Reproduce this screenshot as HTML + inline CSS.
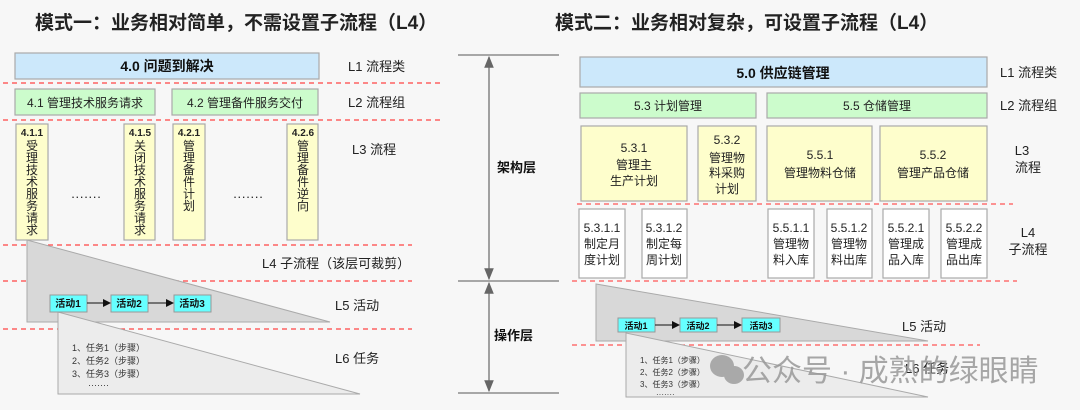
<!DOCTYPE html>
<html><head><meta charset="utf-8"><style>
html,body{margin:0;padding:0;background:#f7f7f7;}
svg{display:block;font-family:"Liberation Sans","Noto Sans CJK SC",sans-serif;}
</style></head><body>
<svg width="1080" height="410" viewBox="0 0 1080 410" xmlns="http://www.w3.org/2000/svg">
<defs><marker id="a" markerWidth="8" markerHeight="8" refX="7" refY="4" orient="auto"><path d="M0,0 L8,4 L0,8z" fill="#111"/></marker>
<marker id="g" markerWidth="10" markerHeight="10" refX="9" refY="5" orient="auto"><path d="M0,1 L10,5 L0,9z" fill="#666"/></marker></defs>
<rect width="1080" height="410" fill="#f7f7f7"/>
<g font-weight="bold" font-size="19" fill="#222">
<text x="35" y="29">模式一：业务相对简单，不需设置子流程（L4）</text>
<text x="555" y="29">模式二：业务相对复杂，可设置子流程（L4）</text>
</g>
<!-- LEFT -->
<g stroke="#aaa" stroke-width="1.2">
<rect x="15" y="53" width="304" height="26" fill="#cce8fb"/>
<rect x="15" y="89" width="140" height="26" fill="#ccfccc"/>
<rect x="172" y="89" width="146" height="26" fill="#ccfccc"/>
<rect x="16" y="124" width="32" height="116" fill="#fefecc"/>
<rect x="124" y="124" width="31" height="116" fill="#fefecc"/>
<rect x="173" y="124" width="32" height="116" fill="#fefecc"/>
<rect x="287" y="124" width="31" height="116" fill="#fefecc"/>
</g>
<g stroke="#f44" stroke-width="1.2" stroke-dasharray="5,4">
<line x1="3" y1="83" x2="440" y2="83"/><line x1="3" y1="120" x2="440" y2="120"/>
<line x1="3" y1="245" x2="412" y2="245"/><line x1="3" y1="281" x2="412" y2="281"/>
<line x1="3" y1="329" x2="412" y2="329"/>
</g>
<text x="167" y="71" font-size="14" font-weight="bold" text-anchor="middle" fill="#111">4.0  问题到解决</text>
<g font-size="12" fill="#222" text-anchor="middle">
<text x="85" y="107">4.1  管理技术服务请求</text>
<text x="245" y="107">4.2  管理备件服务交付</text>
</g>
<g font-size="11" fill="#222" text-anchor="middle">
<text x="32" y="136" font-weight="bold" font-size="10">4.1.1</text>
<text x="140" y="136" font-weight="bold" font-size="10">4.1.5</text>
<text x="189" y="136" font-weight="bold" font-size="10">4.2.1</text>
<text x="303" y="136" font-weight="bold" font-size="10">4.2.6</text>
<g font-size="12">
<text x="32" y="150">受</text><text x="32" y="162">理</text><text x="32" y="174">技</text><text x="32" y="186">术</text><text x="32" y="198">服</text><text x="32" y="210">务</text><text x="32" y="222">请</text><text x="32" y="234">求</text>
<text x="140" y="150">关</text><text x="140" y="162">闭</text><text x="140" y="174">技</text><text x="140" y="186">术</text><text x="140" y="198">服</text><text x="140" y="210">务</text><text x="140" y="222">请</text><text x="140" y="234">求</text>
<text x="189" y="150">管</text><text x="189" y="162">理</text><text x="189" y="174">备</text><text x="189" y="186">件</text><text x="189" y="198">计</text><text x="189" y="210">划</text>
<text x="303" y="150">管</text><text x="303" y="162">理</text><text x="303" y="174">备</text><text x="303" y="186">件</text><text x="303" y="198">逆</text><text x="303" y="210">向</text>
</g>
<text x="86" y="201" font-size="13">·······</text><text x="248" y="201" font-size="13">·······</text>
</g>
<g font-size="13" fill="#222">
<text x="348" y="71">L1 流程类</text><text x="348" y="107">L2 流程组</text><text x="352" y="154">L3 流程</text>
<text x="262" y="268">L4 子流程（该层可裁剪）</text>
<text x="335" y="310">L5  活动</text><text x="335" y="363">L6  任务</text>
</g>
<polygon points="27,240 27,322 330,322" fill="#d8d8d8" stroke="#aaa"/>
<polygon points="58,312 58,394 360,394" fill="#ececec" stroke="#aaa"/>
<g stroke="#999" fill="#66ffff"><rect x="50" y="295" width="37" height="17"/><rect x="111" y="295" width="37" height="17"/><rect x="174" y="295" width="37" height="17"/></g>
<g stroke="#111"><line x1="87" y1="303" x2="110" y2="303" marker-end="url(#a)"/><line x1="148" y1="303" x2="173" y2="303" marker-end="url(#a)"/></g>
<g font-size="10" font-weight="bold" text-anchor="middle" fill="#111"><text x="68" y="307">活动1</text><text x="129" y="307">活动2</text><text x="192" y="307">活动3</text></g>
<g font-size="9" fill="#333"><text x="72" y="351">1、任务1（步骤）</text><text x="72" y="364">2、任务2（步骤）</text><text x="72" y="377">3、任务3（步骤）</text><text x="88" y="388">·······</text></g>
<!-- middle -->
<g stroke="#777" stroke-width="1.2"><line x1="458" y1="55" x2="559" y2="55"/><line x1="458" y1="281" x2="559" y2="281"/><line x1="458" y1="393" x2="559" y2="393"/></g>
<g stroke="#666" stroke-width="1.2"><line x1="489" y1="168" x2="489" y2="57" marker-end="url(#g)"/><line x1="489" y1="168" x2="489" y2="279" marker-end="url(#g)"/><line x1="489" y1="337" x2="489" y2="283" marker-end="url(#g)"/><line x1="489" y1="337" x2="489" y2="391" marker-end="url(#g)"/></g>
<g font-size="13" font-weight="bold" fill="#111"><text x="497" y="172">架构层</text><text x="494" y="340">操作层</text></g>
<!-- RIGHT -->
<g stroke="#aaa" stroke-width="1.2">
<rect x="580" y="57" width="407" height="30" fill="#cce8fb"/>
<rect x="580" y="93" width="176" height="25" fill="#ccfccc"/>
<rect x="767" y="93" width="220" height="25" fill="#ccfccc"/>
<rect x="581" y="126" width="106" height="75" fill="#fefecc"/>
<rect x="698" y="126" width="58" height="75" fill="#fefecc"/>
<rect x="767" y="126" width="105" height="75" fill="#fefecc"/>
<rect x="880" y="126" width="107" height="75" fill="#fefecc"/>
<g fill="#fff"><rect x="579" y="209" width="46" height="69"/><rect x="642" y="209" width="45" height="69"/><rect x="768" y="209" width="46" height="69"/><rect x="827" y="209" width="45" height="69"/><rect x="883" y="209" width="46" height="69"/><rect x="941" y="209" width="46" height="69"/></g>
</g>
<g stroke="#f55" stroke-width="1.2" stroke-dasharray="5,4"><line x1="577" y1="204" x2="1013" y2="204"/><line x1="572" y1="281" x2="1017" y2="281"/><line x1="572" y1="345" x2="980" y2="345"/></g>
<text x="783" y="78" font-size="14" font-weight="bold" text-anchor="middle" fill="#111">5.0 供应链管理</text>
<g font-size="12" fill="#222" text-anchor="middle">
<text x="668" y="110">5.3 计划管理</text><text x="877" y="110">5.5 仓储管理</text>
<text x="634" y="152">5.3.1</text><text x="634" y="169">管理主</text><text x="634" y="185">生产计划</text>
<text x="727" y="144">5.3.2</text><text x="727" y="162">管理物</text><text x="727" y="177">料采购</text><text x="727" y="193">计划</text>
<text x="820" y="159">5.5.1</text><text x="820" y="177">管理物料仓储</text>
<text x="933" y="159">5.5.2</text><text x="933" y="177">管理产品仓储</text>
<text x="602" y="232">5.3.1.1</text><text x="602" y="248">制定月</text><text x="602" y="264">度计划</text>
<text x="664" y="232">5.3.1.2</text><text x="664" y="248">制定每</text><text x="664" y="264">周计划</text>
<text x="791" y="232">5.5.1.1</text><text x="791" y="248">管理物</text><text x="791" y="264">料入库</text>
<text x="849" y="232">5.5.1.2</text><text x="849" y="248">管理物</text><text x="849" y="264">料出库</text>
<text x="906" y="232">5.5.2.1</text><text x="906" y="248">管理成</text><text x="906" y="264">品入库</text>
<text x="964" y="232">5.5.2.2</text><text x="964" y="248">管理成</text><text x="964" y="264">品出库</text>
</g>
<g font-size="13" fill="#222">
<text x="1000" y="77">L1 流程类</text><text x="1000" y="110">L2 流程组</text>
<text x="1022" y="155" text-anchor="middle">L3</text><text x="1028" y="172" text-anchor="middle">流程</text>
<text x="1028" y="237" text-anchor="middle">L4</text><text x="1028" y="254" text-anchor="middle">子流程</text>
<text x="902" y="331">L5  活动</text><text x="905" y="373">L6  任务</text>
</g>
<polygon points="596,284 596,341 928,341" fill="#d8d8d8" stroke="#aaa"/>
<polygon points="626,333 626,397 928,397" fill="#ececec" stroke="#aaa"/>
<g stroke="#999" fill="#66ffff"><rect x="618" y="318" width="37" height="14"/><rect x="680" y="318" width="37" height="14"/><rect x="742" y="318" width="38" height="14"/></g>
<g stroke="#111"><line x1="655" y1="325" x2="679" y2="325" marker-end="url(#a)"/><line x1="717" y1="325" x2="741" y2="325" marker-end="url(#a)"/></g>
<g font-size="9" font-weight="bold" text-anchor="middle" fill="#111"><text x="636" y="329">活动1</text><text x="698" y="329">活动2</text><text x="761" y="329">活动3</text></g>
<g font-size="8" fill="#333"><text x="640" y="363">1、任务1（步骤）</text><text x="640" y="375">2、任务2（步骤）</text><text x="640" y="387">3、任务3（步骤）</text><text x="656" y="397">·······</text></g>
<!-- watermark -->
<g fill="#999" opacity="0.8"><ellipse cx="722" cy="366" rx="12" ry="11"/><ellipse cx="734" cy="375" rx="10" ry="9"/></g>
<text x="742" y="381" font-size="30" fill="#999" opacity="0.85">公众号 · 成熟的绿眼睛</text>
</svg>
</body></html>
